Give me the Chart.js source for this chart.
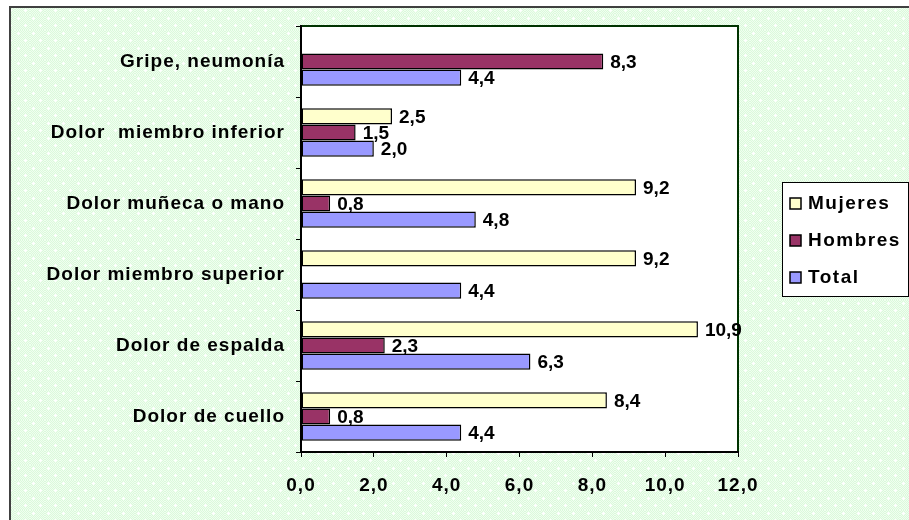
<!DOCTYPE html>
<html>
<head>
<meta charset="utf-8">
<script src="https://cdn.jsdelivr.net/npm/chart.js@4.4.1/dist/chart.umd.min.js"></script>
<style>
  html, body { margin: 0; padding: 0; background: #ffffff; }
  #chart { display: block; }
</style>
</head>
<body>
<canvas id="chart" width="909" height="520" style="width:909px;height:520px"></canvas>
<script>
// categories, top to bottom
const categorias = [
    "Gripe, neumonía",
    "Dolor  miembro inferior",
    "Dolor muñeca o mano",
    "Dolor miembro superior",
    "Dolor de espalda",
    "Dolor de cuello"
];

// series values (%), null where there is no bar
const mujeres = [null, 2.5, 9.2, 9.2, 10.9, 8.4];
const hombres = [8.3, 1.5, 0.8, null, 2.3, 0.8];
const total = [4.4, 2.0, 4.8, 4.4, 6.3, 4.4];

// value axis
const ejeMin = 0;
const ejeMax = 12;
const ejePaso = 2;

const FONT = "'Liberation Sans', Arial, sans-serif";

/* Number formatting with a decimal comma */
const fmt = v => Number(v).toFixed(1).replace(".", ",");

/* Build the light green dotted fill used behind the plot */
function makePattern(ctx) {
    const tile = document.createElement("canvas");
    tile.width = 15;
    tile.height = 15;
    const t = tile.getContext("2d");
    t.fillStyle = "#dbf9db";
    t.fillRect(0, 0, 15, 15);
    t.fillStyle = "#f0fef0";
    for (let y = 0; y < 15; y++) {
        for (let x = (y % 2); x < 15; x += 2) {
            t.fillRect(x, y, 1, 1);
        }
    }
    t.fillStyle = "#ffffff";
    const cross = (cx, cy) => {
        t.fillRect(cx - 1, cy, 3, 1);
        t.fillRect(cx, cy - 1, 1, 3);
    };
    cross(3, 3);
    cross(10, 10);
    return ctx.createPattern(tile, "repeat");
}

/* Page background, outer frame and plot box */
const fondo = {
    id: "fondo",
    beforeDraw(chart) {
        const {ctx, width, height, chartArea: a} = chart;
        ctx.letterSpacing = "1px";
        ctx.save();
        ctx.fillStyle = "#ffffff";
        ctx.fillRect(0, 0, width, height);
        ctx.fillStyle = makePattern(ctx);
        ctx.fillRect(10, 7, width - 10, height - 7);
        ctx.fillStyle = "#404040";
        ctx.fillRect(9, 6, width - 9, 2);
        ctx.fillRect(9, 6, 2, height - 6);
        ctx.fillStyle = "#ffffff";
        ctx.fillRect(a.left, a.top, a.right - a.left, a.bottom - a.top);
        ctx.strokeStyle = "#003300";
        ctx.lineWidth = 2;
        ctx.beginPath();
        ctx.moveTo(a.left, a.top);
        ctx.lineTo(a.right, a.top);
        ctx.lineTo(a.right, a.bottom);
        ctx.stroke();
        ctx.restore();
    }
};

/* Value labels at the end of each bar */
const etiquetas = {
    id: "etiquetas",
    afterDatasetsDraw(chart) {
        const ctx = chart.ctx;
        ctx.save();
        ctx.letterSpacing = "0px";
        ctx.font = "bold 19px " + FONT;
        ctx.fillStyle = "#000000";
        ctx.textAlign = "left";
        ctx.textBaseline = "middle";
        chart.data.datasets.forEach((ds, i) => {
            const meta = chart.getDatasetMeta(i);
            meta.data.forEach((bar, j) => {
                const v = ds.data[j];
                if (v === null || v === undefined) return;
                ctx.fillText(fmt(v), bar.x + 7, bar.y + 1);
            });
        });
        ctx.restore();
    }
};

/* Boxed legend on the right */
const leyenda = {
    id: "leyenda",
    afterDraw(chart) {
        const ctx = chart.ctx;
        const x0 = 782, y0 = 182, w = 126, h = 114;
        ctx.save();
        ctx.fillStyle = "#ffffff";
        ctx.fillRect(x0, y0, w, h);
        ctx.strokeStyle = "#000000";
        ctx.lineWidth = 1;
        ctx.strokeRect(x0 + 0.5, y0 + 0.5, w, h);
        ctx.letterSpacing = "1.5px";
        ctx.font = "bold 19px " + FONT;
        ctx.textAlign = "left";
        ctx.textBaseline = "middle";
        chart.data.datasets.forEach((ds, i) => {
            const cy = 203 + i * 37;
            ctx.fillStyle = ds.backgroundColor;
            ctx.fillRect(790, cy - 5, 11, 11);
            ctx.strokeStyle = "#000000";
            ctx.lineWidth = 1.5;
            ctx.strokeRect(790, cy - 5, 11, 11);
            ctx.fillStyle = "#000000";
            ctx.fillText(ds.label, 808, cy + 1);
        });
        ctx.restore();
    }
};

const serie = (label, data, color) => ({
    label: label,
    data: data,
    backgroundColor: color,
    borderColor: "#000000",
    borderWidth: 1.5,
    borderSkipped: false,
    categoryPercentage: 0.68,
    barPercentage: 1.0
});

new Chart(document.getElementById("chart"), {
    type: "bar",
    data: {
        labels: categorias,
        datasets: [
            serie("Mujeres", mujeres, "#ffffcc"),
            serie("Hombres", hombres, "#993366"),
            serie("Total", total, "#9999ff")
        ]
    },
    options: {
        indexAxis: "y",
        responsive: false,
        animation: false,
        events: [],
        layout: { padding: { left: 0, top: 26, right: 171, bottom: 0 } },
        plugins: {
            legend: { display: false },
            tooltip: { enabled: false }
        },
        scales: {
            x: {
                min: ejeMin,
                max: ejeMax,
                afterFit(scale) { scale.height = 68; },
                ticks: {
                    stepSize: ejePaso,
                    color: "#000000",
                    padding: 17,
                    font: { family: FONT, size: 19, weight: "bold" },
                    callback: v => fmt(v)
                },
                grid: {
                    display: true,
                    drawOnChartArea: false,
                    drawTicks: true,
                    tickLength: 5,
                    color: "#000000"
                },
                border: { display: true, color: "#000000", width: 2 }
            },
            y: {
                afterFit(scale) { scale.width = 301; },
                ticks: {
                    color: "#000000",
                    padding: 11,
                    font: { family: FONT, size: 19, weight: "bold" }
                },
                grid: {
                    display: true,
                    offset: true,
                    drawOnChartArea: false,
                    drawTicks: true,
                    tickLength: 5,
                    color: "#000000"
                },
                border: { display: true, color: "#000000", width: 2 }
            }
        }
    },
    plugins: [fondo, etiquetas, leyenda]
});
</script>
</body>
</html>
